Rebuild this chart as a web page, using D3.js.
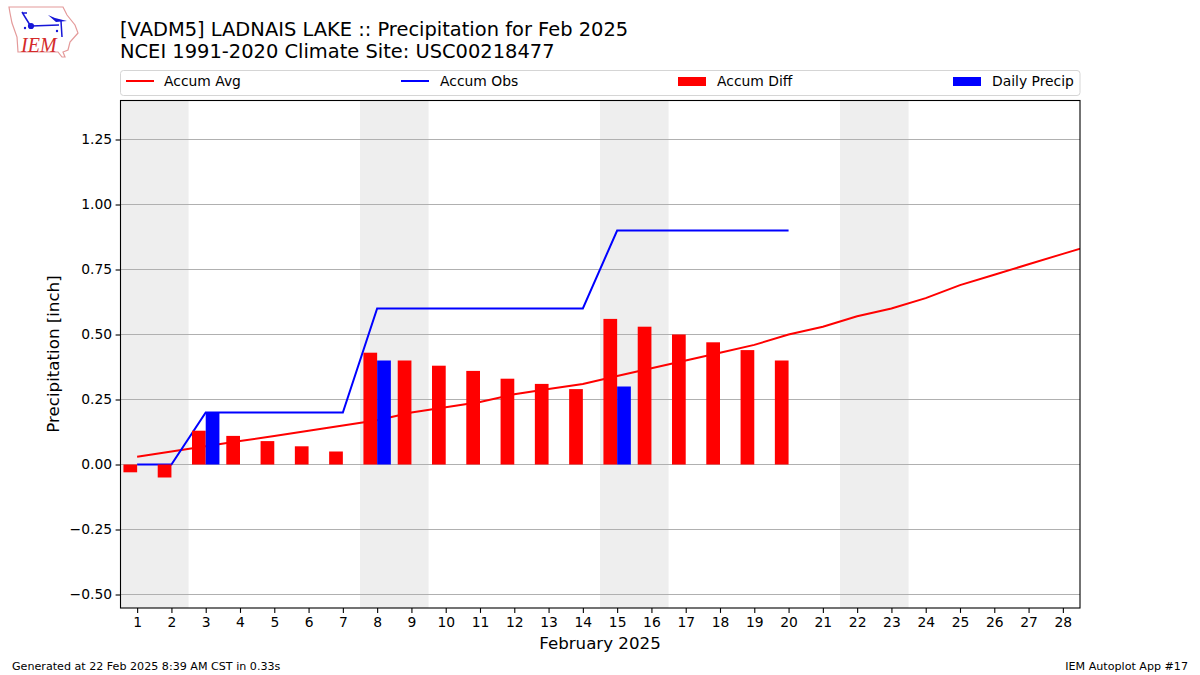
<!DOCTYPE html>
<html><head><meta charset="utf-8">
<script src="https://cdn.jsdelivr.net/npm/d3@7/dist/d3.min.js"></script>
<style>
html,body{margin:0;padding:0;background:#fff;}
svg{display:block;}
text{font-family:"DejaVu Sans",sans-serif;fill:#000;}
</style></head><body><svg id="c" width="1200" height="675"></svg>
<script>
const days = d3.range(1, 29);
const avgDays = d3.range(1, 30);
const accumAvg = [.03,.05,.07,.09,.11,.13,.15,.17,.20,.22,.24,.27,.29,.31,.34,.37,.40,.43,.46,.50,.53,.57,.60,.64,.69,.73,.77,.81,.85];
const accumObs = [0,0,.2,.2,.2,.2,.2,.6,.6,.6,.6,.6,.6,.6,.9,.9,.9,.9,.9,.9];
const accumDiff = [-.03,-.05,.13,.11,.09,.07,.05,.43,.40,.38,.36,.33,.31,.29,.56,.53,.50,.47,.44,.40];
const dailyDays = [3, 8, 15];
const dailyPrecip = [.2, .4, .3];
const weekends = [[.5,2.5],[7.5,9.5],[14.5,16.5],[21.5,23.5]];
const yTicks = [-.5,-.25,0,.25,.5,.75,1,1.25];
const legendItems = ["Accum Avg","Accum Obs","Accum Diff","Daily Precip"];

const svg = d3.select("#c");
const L=120.5,R=1080,T=100.5,B=608;
const x = d3.scaleLinear().domain([.5,28.5]).range([120,1080]);
const y = d3.scaleLinear().domain([-.55,1.4]).range([607.5,100.5]);
const barW = x(1.4)-x(1);

svg.append("clipPath").attr("id","plot").append("rect")
  .attr("x",L).attr("y",T).attr("width",R-L).attr("height",B-T);
const g = svg.append("g").attr("clip-path","url(#plot)");

g.selectAll(".wk").data(weekends).join("rect")
  .attr("x",d=>x(d[0])).attr("width",d=>x(d[1])-x(d[0]))
  .attr("y",T).attr("height",B-T).attr("fill","#eeeeee");

g.selectAll(".grid").data(yTicks).join("line")
  .attr("x1",L).attr("x2",R)
  .attr("y1",d=>Math.floor(y(d))+.5).attr("y2",d=>Math.floor(y(d))+.5)
  .attr("stroke","#b0b0b0").attr("stroke-width",1.1);

const line = d3.line().x(d=>x(d[0])).y(d=>y(d[1]));
g.append("path").attr("d",line(avgDays.map((d,i)=>[d,accumAvg[i]])))
  .attr("fill","none").attr("stroke","#f00").attr("stroke-width",2);
g.append("path").attr("d",line(accumObs.map((v,i)=>[days[i],v])))
  .attr("fill","none").attr("stroke","#00f").attr("stroke-width",2);

g.selectAll(".diff").data(accumDiff).join("rect")
  .attr("x",(d,i)=>x(days[i]-.4)).attr("width",barW)
  .attr("y",d=>y(Math.max(d,0))).attr("height",d=>Math.abs(y(d)-y(0)))
  .attr("fill","#f00");
g.selectAll(".daily").data(dailyPrecip).join("rect")
  .attr("x",(d,i)=>x(dailyDays[i])).attr("width",barW)
  .attr("y",d=>y(d)).attr("height",d=>y(0)-y(d))
  .attr("fill","#00f");

// axes
const xAxis = d3.axisBottom(x).tickValues(days).tickFormat(d3.format("d")).tickSize(4.9).tickPadding(4);
const xg = svg.append("g").attr("transform",`translate(0,${B})`).call(xAxis);
const yAxis = d3.axisLeft(y).tickValues(yTicks).tickFormat(d3.format(".2f")).tickSize(4.9).tickPadding(3.5);
const yg = svg.append("g").attr("transform",`translate(${L},0)`).call(yAxis);
[xg,yg].forEach(a=>{a.select(".domain").remove();
  a.selectAll("text").attr("font-size",13.89).style("font-family",'"DejaVu Sans"');
  a.selectAll("line").attr("stroke","#000").attr("stroke-width",1.1);});
yg.selectAll("text").text(d=>d3.format(".2f")(d).replace("-","\u2212"));

svg.append("rect").attr("x",L).attr("y",T).attr("width",R-L).attr("height",B-T)
  .attr("fill","none").attr("stroke","#000").attr("stroke-width",1.1);

// titles
svg.append("text").attr("x",120).attr("y",36).attr("font-size",19.44).text("[VADM5] LADNAIS LAKE :: Precipitation for Feb 2025");
svg.append("text").attr("x",120).attr("y",58).attr("font-size",19.44).text("NCEI 1991-2020 Climate Site: USC00218477");
svg.append("text").attr("x",600).attr("y",649).attr("text-anchor","middle").attr("font-size",16.67).text("February 2025");
svg.append("text").attr("transform","translate(59,354) rotate(-90)").attr("text-anchor","middle").attr("font-size",16.67).text("Precipitation [inch]");
svg.append("text").attr("x",12).attr("y",670).attr("font-size",11.11).text("Generated at 22 Feb 2025 8:39 AM CST in 0.33s");
svg.append("text").attr("x",1188).attr("y",670).attr("text-anchor","end").attr("font-size",11.11).text("IEM Autoplot App #17");

// legend
svg.append("rect").attr("x",120.5).attr("y",70.5).attr("width",959.5).attr("height",25).attr("rx",3)
  .attr("fill","#fff").attr("stroke","#d5d5d5").attr("stroke-width",1);
const legX=[126,401,678,953], legColor=["#f00","#00f","#f00","#00f"], legKind=["l","l","b","b"];
const legTextX=[164,440,717,992];
legendItems.forEach((t,i)=>{
  if(legKind[i]==="l") svg.append("line").attr("x1",legX[i]).attr("x2",legX[i]+28).attr("y1",81).attr("y2",81)
    .attr("stroke",legColor[i]).attr("stroke-width",2);
  else svg.append("rect").attr("x",legX[i]).attr("y",77).attr("width",28).attr("height",9).attr("fill",legColor[i]);
  svg.append("text").attr("x",legTextX[i]).attr("y",86).attr("font-size",13.89).text(t);
});

// logo
const logo = svg.append("g");
logo.append("path").attr("d","M9 7 L63 7 L67 15 L75 25 L78 33 L70 42 L68 50 L63 52 L65 57 L62 57 L58 52 L18 52 L17 37 L12 23 L10 13 Z")
  .attr("fill","#fff").attr("stroke","#e49a9a").attr("stroke-width",1.2);
logo.append("path").attr("d","M31 26 L59 25 M61 21 L62 37 M22 12 L25 17 L30 25 M23 13 L27 13")
  .attr("fill","none").attr("stroke","#1616d8").attr("stroke-width",1.5);
logo.append("circle").attr("cx",31).attr("cy",26).attr("r",3.1).attr("fill","#1616d8");
logo.append("path").attr("d","M48 15 L55 18 L67 21 L56 22 Z").attr("fill","#1616d8");
logo.append("circle").attr("cx",25).attr("cy",28).attr("r",1.2).attr("fill","#1616d8");
logo.append("circle").attr("cx",57).attr("cy",31).attr("r",1.2).attr("fill","#1616d8");
logo.append("text").attr("x",21).attr("y",52).attr("font-size",20).attr("font-style","italic")
  .style("font-family",'"Liberation Serif"').style("fill","#d42a2a").text("IEM");
</script></body></html>
